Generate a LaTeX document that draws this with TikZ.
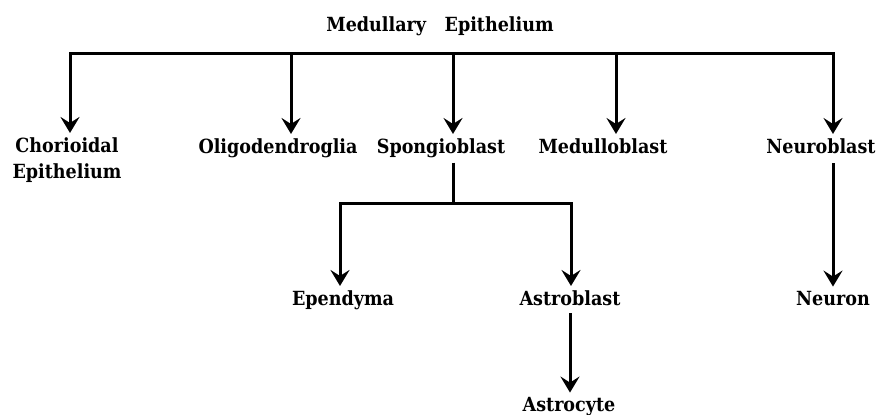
\documentclass[tikz,border=0pt]{standalone}
\usepackage{fontspec}
\setmainfont{DejaVu Serif Condensed}
\usetikzlibrary{arrows.meta}
\begin{document}
\begin{tikzpicture}[x=1pt,y=-1pt,
  lbl/.style={font=\bfseries\fontsize{19.5}{26}\selectfont, inner sep=0pt, align=center},
  arr/.style={-{Stealth[length=16pt,width=19pt,inset=6pt]}, line width=3pt, shorten >=4pt},
  ln/.style={line width=3pt}]
\useasboundingbox (0,0) rectangle (879,415);
\node[lbl,anchor=base] (root) at (440,31) {Medullary\hspace{0.95em}Epithelium};
\node[lbl,anchor=base] (chor) at (67,178) {Chorioidal\\Epithelium};
\node[lbl,anchor=base] (olig) at (278,153) {Oligodendroglia};
\node[lbl,anchor=base] (sp) at (441,153) {Spongioblast};
\node[lbl,anchor=base] (med) at (603,153) {Medulloblast};
\node[lbl,anchor=base] (neub) at (821,153) {Neuroblast};
\node[lbl,anchor=base] (epen) at (343,305) {Ependyma};
\node[lbl,anchor=base] (astb) at (570,305) {Astroblast};
\node[lbl,anchor=base] (neur) at (833,305) {Neuron};
\node[lbl,anchor=base] (astc) at (569,411) {Astrocyte};
\coordinate (b1) at (70,53);
\coordinate (b2) at (291,53);
\coordinate (b3) at (453,53);
\coordinate (b4) at (616,53);
\coordinate (b5) at (833,53);
\coordinate (s0) at (453,203);
\coordinate (s1) at (340,203);
\coordinate (s2) at (571,203);
\draw[ln, line cap=rect] (b1) -- (b5);
\draw[arr] (b1) -- (b1 |- chor.north);
\draw[arr] (b2) -- (b2 |- olig.north);
\draw[arr] (b3) -- (b3 |- sp.north);
\draw[arr] (b4) -- (b4 |- med.north);
\draw[arr] (b5) -- (b5 |- neub.north);
\draw[ln] ([yshift=-5pt]sp.south -| s0) -- (s0);
\draw[ln, line cap=rect] (s1) -- (s2);
\draw[arr] (s1) -- (s1 |- epen.north);
\draw[arr] (s2) -- (s2 |- astb.north);
\draw[arr] ([yshift=-8pt]astb.south) -- (astb.south |- astc.north);
\draw[arr] ([yshift=-10pt]neub.south -| b5) -- (b5 |- neur.north);
\end{tikzpicture}
\end{document}
